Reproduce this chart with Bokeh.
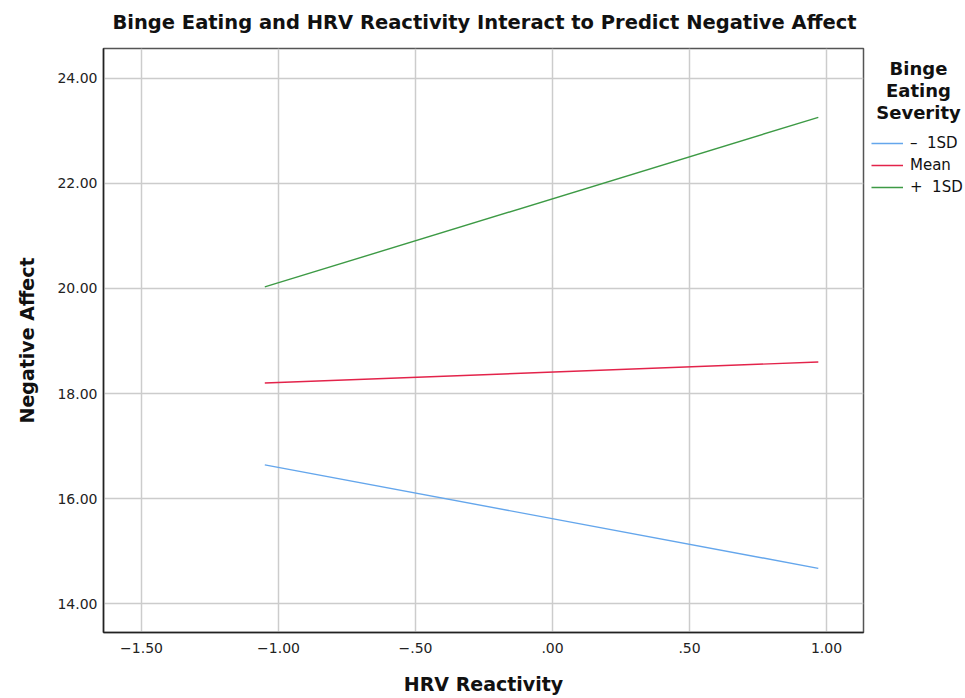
from bokeh.plotting import figure
from bokeh.models import Range1d, FixedTicker, Legend, LegendItem, Label
from bokeh.layouts import column, row
from bokeh.embed import file_html
from bokeh.resources import INLINE

# ---- data ----
hrv_x = [-1.05, 0.97]
series_names = ["\u2013  1SD", "Mean", "+  1SD"]
minus_1sd = [16.64, 14.67]
mean_vals = [18.20, 18.60]
plus_1sd = [20.03, 23.26]
series_colors = ["#64a6ec", "#e3234a", "#3d9a45"]

x_ticks = [-1.5, -1.0, -0.5, 0.0, 0.5, 1.0]
x_tick_labels = ["\u22121.50", "\u22121.00", "\u2212.50", ".00", ".50", "1.00"]
y_ticks = [14, 16, 18, 20, 22, 24]
y_tick_labels = ["14.00", "16.00", "18.00", "20.00", "22.00", "24.00"]
legend_title_lines = ["Binge", "Eating", "Severity"]
chart_title = "Binge Eating and HRV Reactivity Interact to Predict Negative Affect"

FONT = "DejaVu Sans"
BOLD = "DejaVu Sans"

x0, x1 = -1.6387, 1.135
y0, y1 = 13.448, 24.571

TITLE_H = 40
MAIN_W = 865
LEG_W = 965 - MAIN_W
BODY_H = 698 - TITLE_H
FRAME_TOP, FRAME_BOTTOM = 48, 632   # page pixels of the plot frame


def blank(fig):
    fig.min_border = 0
    fig.min_border_left = 0
    fig.min_border_right = 0
    fig.min_border_top = 0
    fig.min_border_bottom = 0
    fig.outline_line_color = None
    fig.grid.visible = False
    fig.background_fill_color = "white"
    fig.border_fill_color = "white"


# ---- title strip ----
tf = figure(width=965, height=TITLE_H, output_backend="svg", toolbar_location=None,
            x_range=Range1d(0, 965), y_range=Range1d(TITLE_H, 0),
            x_axis_type=None, y_axis_type=None)
blank(tf)
tf.add_layout(Label(x=484, y=22, text=chart_title, text_align="center", text_baseline="middle",
                    text_font=BOLD, text_font_size="19.5px", text_font_style="bold",
                    text_color="#111111"))

# ---- main plot ----
p = figure(width=MAIN_W, height=BODY_H, output_backend="svg", toolbar_location=None,
           x_range=Range1d(x0, x1), y_range=Range1d(y0, y1),
           min_border_left=103, min_border_right=2, min_border_top=8, min_border_bottom=66)

p.xaxis.ticker = FixedTicker(ticks=x_ticks)
p.yaxis.ticker = FixedTicker(ticks=y_ticks)
p.xaxis.major_label_overrides = {t: l for t, l in zip(x_ticks, x_tick_labels)}
p.yaxis.major_label_overrides = {t: l for t, l in zip(y_ticks, y_tick_labels)}

for ax in (p.xaxis, p.yaxis):
    ax.major_tick_out = 0
    ax.major_tick_in = 0
    ax.minor_tick_out = 0
    ax.minor_tick_in = 0
    ax.axis_line_color = "#222222"
    ax.axis_line_width = 1.5
    ax.major_label_text_font = FONT
    ax.major_label_text_font_size = "14px"
    ax.major_label_text_color = "#222222"
    ax.axis_label_text_font = BOLD
    ax.axis_label_text_font_size = "19px"
    ax.axis_label_text_font_style = "bold"
    ax.axis_label_text_color = "#111111"

p.xaxis.axis_label = "HRV Reactivity"
p.yaxis.axis_label = "Negative Affect"
p.xaxis.major_label_standoff = 10
p.xaxis.axis_label_standoff = 17
p.yaxis.major_label_standoff = 6
p.yaxis.axis_label_standoff = 16

p.grid.grid_line_color = "#cccccc"
p.grid.grid_line_width = 1.5
p.outline_line_color = "#555555"
p.outline_line_width = 1.5
p.background_fill_color = "white"
p.border_fill_color = "white"

for ys, c in zip([minus_1sd, mean_vals, plus_1sd], series_colors):
    p.line(hrv_x, ys, line_color=c, line_width=1.4)

# ---- legend strip (its frame is aligned with the main frame by the row layout) ----
lf = figure(width=LEG_W, height=BODY_H, output_backend="svg", toolbar_location=None,
            x_range=Range1d(MAIN_W, 965), y_range=Range1d(FRAME_BOTTOM, FRAME_TOP),
            x_axis_type=None, y_axis_type=None)
blank(lf)
lf.extra_x_ranges = {"hidden": Range1d(100, 101)}
leg_renderers = []
for ys, c in zip([minus_1sd, mean_vals, plus_1sd], series_colors):
    leg_renderers.append(lf.line(hrv_x, ys, line_color=c, line_width=1.4, x_range_name="hidden"))

legend = Legend(items=[LegendItem(label=n, renderers=[r]) for n, r in zip(series_names, leg_renderers)],
                location=(6, FRAME_BOTTOM - 197), padding=0, margin=0, spacing=2,
                label_height=20, glyph_height=20, glyph_width=32, label_standoff=7,
                label_text_font=FONT, label_text_font_size="15px", label_text_color="#111111",
                border_line_color=None, background_fill_alpha=0)
lf.add_layout(legend, "center")

for i, t in enumerate(legend_title_lines):
    lf.add_layout(Label(x=918, y=68 + 22 * i, text=t,
                        text_align="center", text_baseline="middle",
                        text_font=BOLD, text_font_size="18px", text_font_style="bold",
                        text_color="#111111"))

layout = column(tf, row(p, lf, spacing=0), spacing=0)
open("out.html", "w").write(file_html(layout, INLINE))
